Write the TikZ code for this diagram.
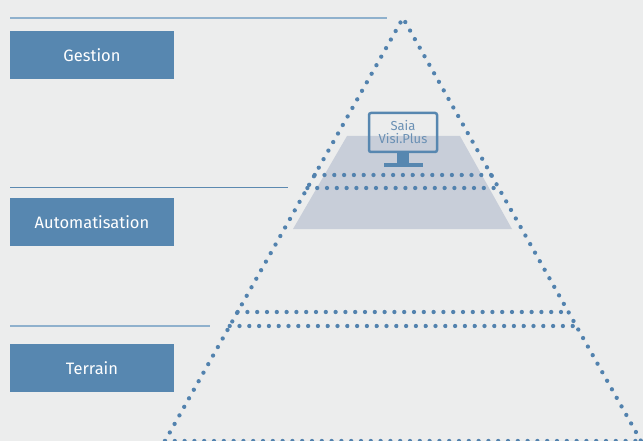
\documentclass[tikz,border=0pt]{standalone}
\usepackage{fontspec}
\setmainfont{Fira Sans}
\usetikzlibrary{calc}
\definecolor{fond}{HTML}{ECEDED}
\definecolor{bleu}{HTML}{5787B0}
\definecolor{pointille}{HTML}{5282AE}
\definecolor{filet}{HTML}{8FB1CD}
\definecolor{filetfonce}{HTML}{5C89B0}
\definecolor{plateau}{HTML}{C8CED9}
\definecolor{ecrantxt}{HTML}{6A90B4}

\begin{document}
\begin{tikzpicture}[x=1pt,y=-1pt,
    niveau/.style={fill=bleu,text=white,minimum width=164pt,minimum height=48pt,inner sep=0pt,font=\fontsize{16.5}{18}\selectfont},
    points/.style={pointille,line width=4.3pt,line cap=round,dash pattern=on 0pt off 9.8pt}]
    \useasboundingbox (0,0) rectangle (643,441);
    \fill[fond] (0,0) rectangle (643,441);
    % filets de gauche
    \draw[filet,line width=1.3pt] (10,18)--(387,18);
    \draw[filetfonce,line width=0.9pt] (10,187)--(288,187);
    \draw[filet,line width=1.3pt] (10,326)--(210,326);
    % niveaux
    \node[niveau] (gestion) at (92,55) {Gestion};
    \node[niveau] (automatisation) at (92,222) {Automatisation};
    \node[niveau] (terrain) at (92,368) {Terrain};
    % plateau et ecran
    \fill[plateau] (347,136)--(460,136)--(512,229)--(293,229)--cycle;
    \draw[bleu,line width=2.5pt,rounded corners=2pt] (369,113) rectangle (437,152);
    \fill[bleu] (397,152) rectangle (409,164);
    \fill[bleu] (384,163) rectangle (423,167);
    \node[ecrantxt,align=center,font=\fontsize{13}{13.5}\selectfont,inner sep=0pt] (ecran) at (403,132) {Saia\\Visi.Plus};
    % pyramide
    \coordinate (sommet) at (403,18);
    \coordinate (basg) at (165,441);
    \coordinate (basd) at (641,441);
    \draw[points] (basg)--(sommet)--(basd);
    \draw[points] (basg)--(basd);
    \draw[points] (314.7,175)--(491.3,175);
    \draw[points] (307.4,188)--(498.6,188);
    \draw[points] (237.6,312)--(568.4,312);
    \draw[points] (229.7,326)--(576.3,326);
\end{tikzpicture}
\end{document}
